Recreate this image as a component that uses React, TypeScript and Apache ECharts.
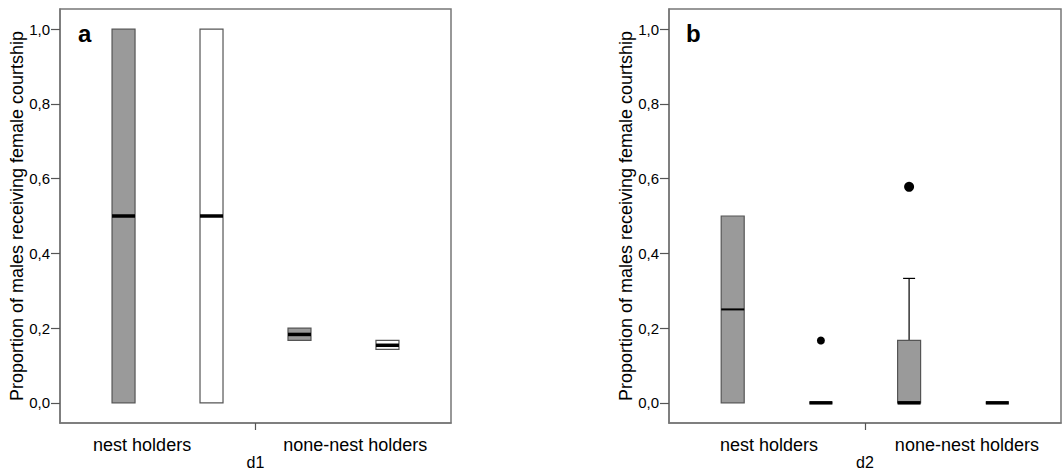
import React, { useEffect, useRef } from "react";
import * as echarts from "echarts";

const CATEGORIES = ["nest holders", "none-nest holders"];
const Y_TICKS = [0, 0.2, 0.4, 0.6, 0.8, 1.0];
// [min, q1, median, q3, max]
const A_BOXES = [
  [0, 0, 0.5, 1.0, 1.0],
  [0, 0, 0.5, 1.0, 1.0],
  [0.167, 0.167, 0.183, 0.2, 0.2],
  [0.143, 0.143, 0.154, 0.167, 0.167],
];
const B_BOXES = [
  [0, 0, 0.25, 0.5, 0.5],
  [0, 0, 0, 0, 0],
  [0, 0, 0, 0.167, 0.333],
  [0, 0, 0, 0, 0],
];
// [box index, value]
const A_OUTLIERS: number[][] = [];
const B_OUTLIERS = [
  [1, 0.167],
  [2, 0.578],
];
const BOX_POS = [0.325, 0.775, 1.225, 1.675];
const BOX_FILL = ["#9a9a9a", "#ffffff", "#9a9a9a", "#ffffff"];

const FONT = "'Liberation Sans', Arial, sans-serif";

function boxSeries(boxes: number[][], gridIdx: number, medW: number[]) {
  return {
    type: "custom",
    xAxisIndex: gridIdx,
    yAxisIndex: gridIdx,
    data: boxes.map((b, i) => [BOX_POS[i], ...b, i]),
    renderItem: (params: any, api: any) => {
      const x = api.value(0);
      const vMin = api.value(1);
      const q1 = api.value(2);
      const med = api.value(3);
      const q3 = api.value(4);
      const vMax = api.value(5);
      const idx = api.value(6);
      const cx = api.coord([x, 0])[0];
      const yMin = api.coord([x, vMin])[1];
      const yQ1 = api.coord([x, q1])[1];
      const yMed = api.coord([x, med])[1];
      const yQ3 = api.coord([x, q3])[1];
      const yMax = api.coord([x, vMax])[1];
      const half = 11.5;
      const cap = 6;
      const children: any[] = [];
      if (vMax > q3) {
        children.push({ type: "line", shape: { x1: cx, y1: yQ3, x2: cx, y2: yMax }, style: { stroke: "#000", lineWidth: 1.2 } });
        children.push({ type: "line", shape: { x1: cx - cap, y1: yMax, x2: cx + cap, y2: yMax }, style: { stroke: "#000", lineWidth: 1.2 } });
      }
      if (vMin < q1) {
        children.push({ type: "line", shape: { x1: cx, y1: yQ1, x2: cx, y2: yMin }, style: { stroke: "#000", lineWidth: 1.2 } });
        children.push({ type: "line", shape: { x1: cx - cap, y1: yMin, x2: cx + cap, y2: yMin }, style: { stroke: "#000", lineWidth: 1.2 } });
      }
      children.push({
        type: "rect",
        shape: { x: cx - half, y: yQ3, width: half * 2, height: yQ1 - yQ3 },
        style: { fill: BOX_FILL[idx], stroke: "#555", lineWidth: 1.2 },
      });
      children.push({
        type: "line",
        shape: { x1: cx - half, y1: yMed, x2: cx + half, y2: yMed },
        style: { stroke: "#000", lineWidth: medW[idx] },
      });
      return { type: "group", children };
    },
    z: 3,
  };
}

function outlierSeries(outs: number[][], gridIdx: number) {
  return {
    type: "scatter",
    xAxisIndex: gridIdx,
    yAxisIndex: gridIdx,
    data: outs.map((o) => [BOX_POS[o[0]], o[1]]),
    symbol: "circle",
    symbolSize: (v: number[]) => (v[1] > 0.4 ? 10 : 8),
    itemStyle: { color: "#000", opacity: 1 },
    z: 4,
  };
}

function xAxis(gridIdx: number, name: string, labelPos: number[]) {
  return {
    type: "value",
    gridIndex: gridIdx,
    min: 0,
    max: 2,
    name,
    nameLocation: "middle",
    nameGap: 31,
    nameMoveOverlap: false,
    nameTextStyle: { fontSize: 16, color: "#000", fontFamily: FONT, lineHeight: 16 },
    axisLine: { show: true, onZero: false, lineStyle: { color: "#777", width: 1.5 } },
    axisTick: { show: true, customValues: [1], length: 7, lineStyle: { color: "#555", width: 1.2 } },
    axisLabel: {
      show: true,
      customValues: labelPos,
      formatter: (v: number) => CATEGORIES[v < 1 ? 0 : 1],
      fontSize: 18,
      color: "#000",
      fontFamily: FONT,
      margin: 13,
    },
    splitLine: { show: false },
  };
}

function yAxis(gridIdx: number) {
  return {
    type: "value",
    gridIndex: gridIdx,
    min: -0.054,
    max: 1.054,
    name: "Proportion of males receiving female courtship",
    nameLocation: "middle",
    nameRotate: 90,
    nameGap: 34,
    nameMoveOverlap: false,
    nameTextStyle: { fontSize: 18, color: "#000", fontFamily: FONT },
    axisLine: { show: true, onZero: false, lineStyle: { color: "#777", width: 1.5 } },
    axisTick: { show: true, customValues: Y_TICKS, length: 9, lineStyle: { color: "#555", width: 1.2 } },
    axisLabel: {
      show: true,
      customValues: Y_TICKS,
      formatter: (v: number) => v.toFixed(1).replace(".", ","),
      fontSize: 15,
      color: "#000",
      fontFamily: FONT,
      margin: 10,
    },
    splitLine: { show: false },
  };
}

export default function App() {
  const ref = useRef<HTMLDivElement>(null);
  useEffect(() => {
    if (!ref.current) return;
    const chart = echarts.init(ref.current, undefined, { renderer: "svg" });
    chart.setOption({
      animation: false,
      backgroundColor: "#ffffff",
      title: [
        { text: "a", left: 78, top: 21, padding: 0, textStyle: { fontSize: 24, fontWeight: "bold", color: "#000", fontFamily: FONT } },
        { text: "b", left: 686, top: 21, padding: 0, textStyle: { fontSize: 24, fontWeight: "bold", color: "#000", fontFamily: FONT } },
      ],
      grid: [
        { left: 60, top: 9, width: 391, height: 414, show: true, borderColor: "#777", borderWidth: 1.5, backgroundColor: "transparent", outerBoundsMode: "none", containLabel: false },
        { left: 669, top: 9, width: 392, height: 414, show: true, borderColor: "#777", borderWidth: 1.5, backgroundColor: "transparent", outerBoundsMode: "none", containLabel: false },
      ],
      xAxis: [xAxis(0, "d1", [0.42, 1.51]), xAxis(1, "d2", [0.51, 1.52])],
      yAxis: [yAxis(0), yAxis(1)],
      series: [
        boxSeries(A_BOXES, 0, [3.5, 3.5, 3.5, 3.5]),
        outlierSeries(A_OUTLIERS, 0),
        boxSeries(B_BOXES, 1, [2, 3.5, 3.5, 3.5]),
        outlierSeries(B_OUTLIERS, 1),
      ],
    });
    return () => chart.dispose();
  }, []);
  return <div ref={ref} style={{ width: 1062, height: 474, position: "absolute", left: 0, top: 0 }} />;
}
